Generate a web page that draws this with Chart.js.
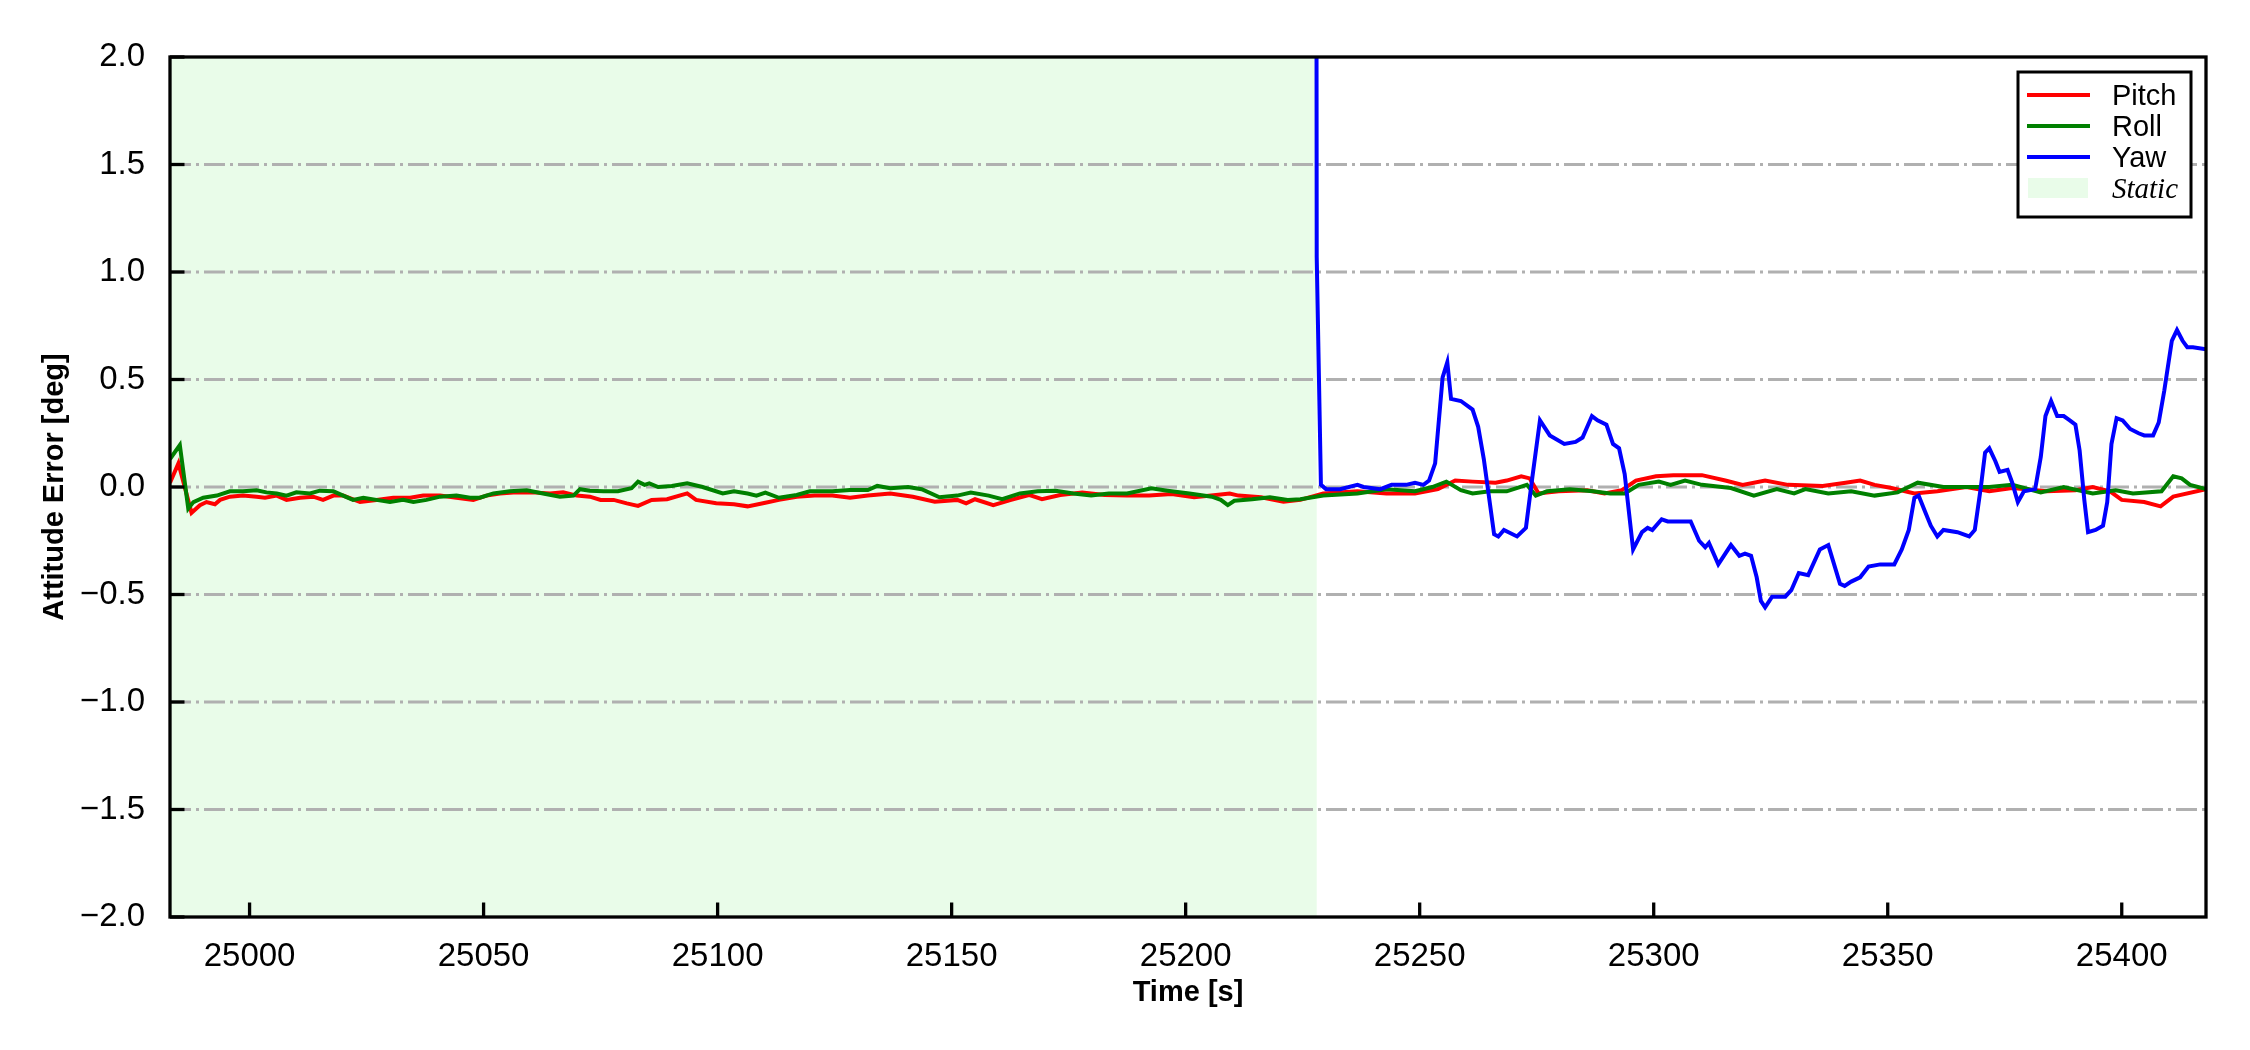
<!DOCTYPE html>
<html>
<head>
<meta charset="utf-8">
<title>Attitude Error</title>
<script src="https://cdn.jsdelivr.net/npm/chart.js@4.4.1/dist/chart.umd.min.js"></script>
<style>
  html, body { margin: 0; padding: 0; background: #fff; }
  #chart { display: block; }
</style>
</head>
<body>
<canvas id="chart" width="2250" height="1050"></canvas>
<script>
// axis ticks and limits
const xTicks = [25000, 25050, 25100, 25150, 25200, 25250, 25300, 25350, 25400];
const yTicks = [-2, -1.5, -1, -0.5, 0, 0.5, 1, 1.5, 2];
const xMin = 24983, xMax = 25418;
const staticSpan = [24983, 25228];

// Pitch error [deg]
const pitchTime = [24983, 24984.8, 24987.6, 24989.4, 24990.8, 24992.6, 24993.7, 24995.8, 24998.6, 25001.5,
  25003.3, 25005.8, 25007.9, 25010.8, 25013.6, 25015.7, 25017.9, 25020, 25023.6, 25027.1,
  25030.7, 25034.3, 25037.1, 25040.7, 25044.2, 25047.8, 25050.6, 25053.5, 25057.1, 25060.6,
  25064.2, 25067, 25069.9, 25072.7, 25075, 25077.8, 25080.6, 25083, 25085.9, 25089.2,
  25093.5, 25095.4, 25099.7, 25103.5, 25106.4, 25110.2, 25113.1, 25116.9, 25120.7, 25124.5,
  25128.3, 25132.1, 25136.9, 25141.7, 25146.4, 25151.2, 25153.1, 25155, 25158.9, 25162.7,
  25166.5, 25169.3, 25173.2, 25177.9, 25182.7, 25187.5, 25192.2, 25197, 25201.8, 25206.5,
  25209.4, 25211.3, 25216.1, 25220.9, 25224.5, 25229.4, 25236.7, 25242.9, 25249, 25253.9,
  25257.6, 25261.3, 25266.2, 25268.6, 25271.7, 25273.5, 25275.4, 25279.7, 25285.8, 25289.5,
  25293.2, 25296.2, 25300.5, 25304.2, 25310.3, 25315.3, 25319, 25323.8, 25328.7, 25336.1,
  25341, 25344.1, 25347.2, 25350.8, 25355.7, 25360.6, 25366.8, 25371.7, 25376.6, 25384,
  25390.1, 25393.8, 25397.5, 25400, 25404.8, 25408.3, 25411, 25418];
const pitchErr = [0.02, 0.11, -0.12, -0.085, -0.07, -0.08, -0.06, -0.045, -0.04, -0.045,
  -0.05, -0.04, -0.06, -0.05, -0.045, -0.06, -0.04, -0.04, -0.07, -0.06,
  -0.05, -0.05, -0.04, -0.04, -0.05, -0.06, -0.04, -0.03, -0.025, -0.025,
  -0.03, -0.025, -0.04, -0.045, -0.06, -0.06, -0.076, -0.088, -0.06, -0.057,
  -0.03, -0.06, -0.076, -0.08, -0.09, -0.073, -0.06, -0.045, -0.04, -0.04,
  -0.05, -0.04, -0.03, -0.045, -0.068, -0.06, -0.076, -0.057, -0.084, -0.06,
  -0.037, -0.057, -0.037, -0.026, -0.037, -0.04, -0.04, -0.033, -0.048, -0.037,
  -0.03, -0.04, -0.048, -0.068, -0.06, -0.03, -0.02, -0.03, -0.03, -0.01,
  0.03, 0.025, 0.02, 0.03, 0.05, 0.04, -0.03, -0.02, -0.015, -0.03,
  -0.015, 0.03, 0.05, 0.055, 0.055, 0.03, 0.01, 0.03, 0.01, 0.005,
  0.02, 0.03, 0.01, -0.005, -0.03, -0.02, 0.0, -0.02, -0.005, -0.02,
  -0.015, 0.0, -0.02, -0.06, -0.07, -0.09, -0.045, -0.01];

// Roll error [deg]
const rollTime = [24983, 24985.1, 24986.9, 24988, 24990.1, 24993, 24995.8, 24998.6, 25001.5, 25003.6,
  25005.8, 25007.9, 25010, 25012.9, 25015, 25017.9, 25020, 25022.1, 25024.3, 25027.1,
  25030, 25032.8, 25035, 25037.8, 25040.7, 25044.2, 25047.1, 25049.2, 25052.1, 25055.6,
  25059.2, 25062.7, 25066.3, 25069.2, 25070.6, 25072.7, 25075.6, 25078.7, 25081.6, 25083,
  25084.4, 25085.4, 25087.3, 25090.2, 25093.5, 25096.8, 25101.1, 25103.5, 25106.4, 25108.3,
  25110.2, 25113.1, 25116.9, 25119.7, 25124.5, 25128.3, 25132.1, 25134.1, 25136.9, 25140.7,
  25143.6, 25147.4, 25151.2, 25154.1, 25157.9, 25160.8, 25164.6, 25168.4, 25172.2, 25176,
  25179.8, 25183.6, 25187.5, 25192.7, 25196.1, 25200.8, 25205.6, 25207.5, 25209, 25210.4,
  25214.2, 25218, 25221.8, 25224.5, 25229.4, 25236.7, 25242.9, 25249, 25252.7, 25255.7,
  25258.8, 25261.3, 25265, 25268.6, 25272.9, 25274.8, 25277.2, 25282.1, 25287, 25290.7,
  25293.8, 25296.8, 25301.1, 25303.6, 25306.7, 25310.3, 25316.5, 25321.4, 25326.3, 25330,
  25332.4, 25337.3, 25342.2, 25347.2, 25352.1, 25356.4, 25361.9, 25366.8, 25371.7, 25376.6,
  25382.7, 25387.6, 25393.8, 25398.7, 25402.4, 25408.5, 25411, 25412.8, 25414.6, 25418];
const rollErr = [0.13, 0.195, -0.10, -0.07, -0.05, -0.04, -0.02, -0.02, -0.015, -0.025,
  -0.03, -0.04, -0.025, -0.03, -0.017, -0.02, -0.04, -0.06, -0.05, -0.06,
  -0.07, -0.06, -0.07, -0.06, -0.045, -0.04, -0.05, -0.05, -0.03, -0.02,
  -0.015, -0.03, -0.045, -0.04, -0.01, -0.017, -0.02, -0.02, -0.006, 0.025,
  0.01, 0.017, 0.0, 0.005, 0.017, 0.0, -0.03, -0.02, -0.03, -0.04,
  -0.026, -0.05, -0.037, -0.02, -0.02, -0.014, -0.014, 0.005, -0.006, 0.0,
  -0.01, -0.048, -0.04, -0.026, -0.04, -0.057, -0.03, -0.02, -0.017, -0.03,
  -0.04, -0.03, -0.03, -0.006, -0.017, -0.03, -0.045, -0.06, -0.084, -0.064,
  -0.057, -0.048, -0.06, -0.057, -0.04, -0.03, -0.01, -0.02, 0.0, 0.025,
  -0.015, -0.03, -0.02, -0.02, 0.01, -0.04, -0.02, -0.01, -0.02, -0.03,
  -0.03, 0.01, 0.025, 0.01, 0.03, 0.01, -0.005, -0.04, -0.01, -0.03,
  -0.01, -0.03, -0.02, -0.04, -0.025, 0.02, 0.0, 0.0, 0.0, 0.01,
  -0.025, 0.0, -0.03, -0.015, -0.03, -0.02, 0.05, 0.04, 0.01, -0.01];

// Yaw error [deg]
const yawTime = [25227.8, 25228, 25228.9, 25230, 25233, 25236.7, 25238, 25241.6, 25244, 25247.1,
  25249, 25250.8, 25252, 25253.3, 25254.9, 25255.9, 25256.7, 25258.8, 25261.3, 25262.5,
  25263.7, 25265.9, 25266.8, 25268, 25270.8, 25272.7, 25274.1, 25275.7, 25277.8, 25280.9,
  25283.3, 25284.8, 25286.8, 25288, 25289.9, 25291.3, 25292.6, 25293.8, 25295.6, 25297.5,
  25298.7, 25299.7, 25301.7, 25303, 25307.9, 25309.7, 25311, 25311.8, 25313.8, 25316.5,
  25318.3, 25319.5, 25320.8, 25322, 25322.9, 25323.8, 25325.3, 25328.1, 25329.4, 25331,
  25333, 25335.5, 25337.3, 25339.8, 25340.8, 25342.2, 25344.1, 25345.9, 25348.4, 25351.4,
  25353, 25354.5, 25355.7, 25356.6, 25357.9, 25359.2, 25360.6, 25361.9, 25364.9, 25367.4,
  25368.6, 25369.9, 25370.8, 25371.7, 25373, 25373.9, 25375.6, 25376.6, 25377.8, 25379.1,
  25381.5, 25382.7, 25383.7, 25384.9, 25386.2, 25387.6, 25388.9, 25390.1, 25391, 25392,
  25392.8, 25394.4, 25396, 25396.9, 25397.8, 25398.9, 25400.2, 25401.8, 25403.6, 25404.8,
  25406.7, 25407.9, 25409.1, 25410.7, 25411.8, 25413, 25414, 25415.2, 25418];
const yawErr = [6.0, 1.07, 0.01, -0.01, -0.01, 0.01, 0.0, -0.01, 0.01, 0.01,
  0.02, 0.01, 0.03, 0.11, 0.51, 0.58, 0.41, 0.40, 0.36, 0.28,
  0.13, -0.22, -0.23, -0.20, -0.23, -0.19, 0.05, 0.31, 0.24, 0.20,
  0.21, 0.23, 0.33, 0.31, 0.29, 0.20, 0.18, 0.06, -0.29, -0.21,
  -0.19, -0.20, -0.15, -0.16, -0.16, -0.25, -0.28, -0.26, -0.36, -0.27,
  -0.32, -0.31, -0.32, -0.42, -0.53, -0.56, -0.51, -0.51, -0.48, -0.40,
  -0.41, -0.29, -0.27, -0.45, -0.46, -0.44, -0.42, -0.37, -0.36, -0.36,
  -0.29, -0.20, -0.05, -0.04, -0.11, -0.18, -0.23, -0.20, -0.21, -0.23,
  -0.20, 0.0, 0.16, 0.18, 0.12, 0.07, 0.08, 0.02, -0.07, -0.02,
  -0.01, 0.14, 0.33, 0.40, 0.33, 0.33, 0.31, 0.29, 0.17, -0.06,
  -0.21, -0.20, -0.18, -0.07, 0.20, 0.32, 0.31, 0.27, 0.25, 0.24,
  0.24, 0.30, 0.45, 0.68, 0.73, 0.68, 0.65, 0.65, 0.64];

const toPoints = (ts, vs) => ts.map((t, i) => ({x: t, y: vs[i]}));

const SANS = '"Liberation Sans", Arial, sans-serif';
const SERIF = '"Liberation Serif", "Times New Roman", serif';
Chart.defaults.font.family = SANS;
Chart.defaults.color = '#000';

const legendItems = [
  {label: 'Pitch', color: '#ff0000'},
  {label: 'Roll', color: '#008000'},
  {label: 'Yaw', color: '#0000ff'},
  {label: 'Static', patch: 'rgba(144, 238, 144, 0.2)'}
];

// static span, dash-dot grid, frame with inward ticks, and legend box
const axesDecor = {
  id: 'axesDecor',
  beforeDatasetsDraw(chart) {
    const {ctx, chartArea: a, scales: {x, y}} = chart;
    ctx.save();
    const x0 = x.getPixelForValue(staticSpan[0]);
    const x1 = x.getPixelForValue(staticSpan[1]);
    ctx.fillStyle = 'rgba(144, 238, 144, 0.2)';
    ctx.fillRect(x0, a.top, x1 - x0, a.bottom - a.top);

    ctx.strokeStyle = '#b0b0b0';
    ctx.lineWidth = 3;
    ctx.setLineDash([21, 5, 3, 5]);
    yTicks.forEach(v => {
      if (v <= y.min || v >= y.max) return;
      const py = y.getPixelForValue(v);
      ctx.beginPath();
      ctx.moveTo(a.left, py);
      ctx.lineTo(a.right, py);
      ctx.stroke();
    });
    ctx.restore();
  },
  afterDatasetsDraw(chart) {
    const {ctx, chartArea: a, scales: {x, y}} = chart;
    ctx.save();
    ctx.strokeStyle = '#000';
    ctx.lineWidth = 3.3;
    ctx.setLineDash([]);
    // inward ticks
    xTicks.forEach(v => {
      const px = x.getPixelForValue(v);
      ctx.beginPath();
      ctx.moveTo(px, a.bottom);
      ctx.lineTo(px, a.bottom - 14.5);
      ctx.stroke();
    });
    yTicks.forEach(v => {
      const py = y.getPixelForValue(v);
      ctx.beginPath();
      ctx.moveTo(a.left, py);
      ctx.lineTo(a.left + 14.5, py);
      ctx.stroke();
    });
    ctx.strokeRect(a.left, a.top, a.right - a.left, a.bottom - a.top);
    ctx.restore();
  },
  afterDraw(chart) {
    const {ctx, chartArea: a} = chart;
    const boxW = 173, boxH = 145, inset = 15;
    const bx = a.right - inset - boxW, by = a.top + inset;
    ctx.save();
    ctx.fillStyle = '#fff';
    ctx.fillRect(bx, by, boxW, boxH);
    ctx.strokeStyle = '#000';
    ctx.lineWidth = 3;
    ctx.strokeRect(bx, by, boxW, boxH);
    legendItems.forEach((it, i) => {
      const cy = by + 23 + i * 31;
      if (it.patch) {
        ctx.fillStyle = it.patch;
        ctx.fillRect(bx + 10, cy - 10, 60, 20);
        ctx.font = 'italic 29px ' + SERIF;
      } else {
        ctx.strokeStyle = it.color;
        ctx.lineWidth = 4;
        ctx.beginPath();
        ctx.moveTo(bx + 9, cy);
        ctx.lineTo(bx + 72, cy);
        ctx.stroke();
        ctx.font = '29px ' + SANS;
      }
      ctx.fillStyle = '#000';
      ctx.textBaseline = 'alphabetic';
      ctx.fillText(it.label, bx + 94, cy + 10);
    });
    ctx.restore();
  }
};

const lineStyle = color => ({
  borderColor: color,
  backgroundColor: color,
  borderWidth: 4,
  pointRadius: 0,
  tension: 0,
  fill: false,
  clip: 0
});

new Chart(document.getElementById('chart'), {
  type: 'line',
  data: {
    datasets: [
      {label: 'Pitch', data: toPoints(pitchTime, pitchErr), order: 2, ...lineStyle('#ff0000')},
      {label: 'Roll', data: toPoints(rollTime, rollErr), order: 1, ...lineStyle('#008000')},
      {label: 'Yaw', data: toPoints(yawTime, yawErr), order: 0, ...lineStyle('#0000ff')}
    ]
  },
  options: {
    responsive: false,
    animation: false,
    devicePixelRatio: 1,
    layout: {padding: {top: 57, right: 44, left: 0, bottom: 0}},
    plugins: {legend: {display: false}, tooltip: {enabled: false}},
    scales: {
      x: {
        type: 'linear',
        min: xMin,
        max: xMax,
        afterBuildTicks: s => { s.ticks = xTicks.map(v => ({value: v})); },
        afterFit: s => { s.height = 133; },
        grid: {display: false},
        border: {display: false},
        ticks: {font: {size: 33}, padding: 12, maxRotation: 0, callback: v => String(v)},
        title: {display: true, text: 'Time [s]', font: {size: 29, weight: 'bold'}, padding: {top: 0, bottom: 39.6}}
      },
      y: {
        min: -2,
        max: 2,
        afterBuildTicks: s => { s.ticks = yTicks.map(v => ({value: v})); },
        afterFit: s => { s.width = 170; },
        grid: {display: false},
        border: {display: false},
        ticks: {
          font: {size: 33},
          padding: 17,
          callback: v => (v < 0 ? '\u2212' : '') + Math.abs(v).toFixed(1)
        },
        title: {display: true, text: 'Attitude Error [deg]', font: {size: 29, weight: 'bold'}, padding: {top: 37.4, bottom: 0}}
      }
    }
  },
  plugins: [axesDecor]
});
</script>
</body>
</html>
